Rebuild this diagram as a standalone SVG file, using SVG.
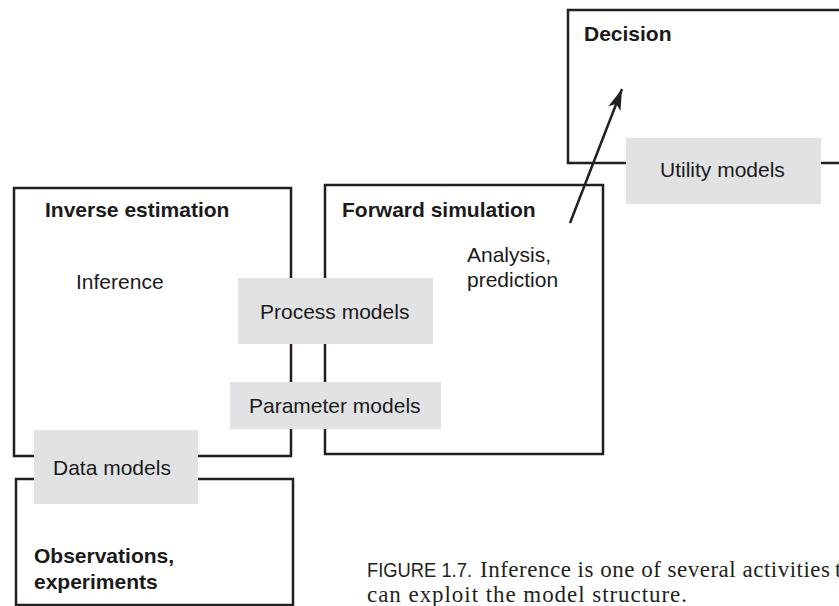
<svg xmlns="http://www.w3.org/2000/svg" width="839" height="606" viewBox="0 0 839 606">
<style>
.box{fill:#fff;stroke:#231f20;stroke-width:2.5}
.model{fill:#e1e2e4;stroke:none}
.t{font-family:"Liberation Sans",Arial,sans-serif;font-size:21px;fill:#1a1a1a}
.b{font-weight:bold}
.cap{font-family:"Liberation Serif","Times New Roman",serif;font-size:23px;fill:#231f20}
.capl{font-family:"Liberation Sans",Arial,sans-serif;font-size:20px;fill:#231f20}
</style>
<defs>
<marker id="ah" markerUnits="userSpaceOnUse" markerWidth="24" markerHeight="16" viewBox="-22 -8 24 16" refX="0" refY="0" orient="auto">
<path d="M0,0 L-21,-6.5 L-16,0 L-21,6.5 Z" fill="#231f20"/>
</marker>
</defs>
<rect width="839" height="606" fill="#fff"/>
<g id="decision">
<rect class="box" x="568" y="10" width="300" height="153"/>
<text class="t b" x="584" y="41">Decision</text>
</g>
<g id="forward">
<rect class="box" x="325" y="185" width="278" height="269"/>
<text class="t b" x="342" y="217">Forward simulation</text>
<text class="t" x="467" y="262">Analysis,</text>
<text class="t" x="467" y="287">prediction</text>
</g>
<g id="inverse">
<rect class="box" x="14" y="188" width="277" height="268"/>
<text class="t b" x="45" y="217">Inverse estimation</text>
<text class="t" x="76" y="289">Inference</text>
</g>
<g id="observations">
<rect class="box" x="16" y="479" width="277" height="126"/>
<text class="t b" x="34" y="563">Observations,</text>
<text class="t b" x="34" y="589">experiments</text>
</g>
<g id="utility-models">
<rect class="model" x="626" y="138" width="195" height="66"/>
<text class="t" x="660" y="177">Utility models</text>
</g>
<g id="process-models">
<rect class="model" x="238" y="278" width="195" height="66"/>
<text class="t" x="260" y="319">Process models</text>
</g>
<g id="parameter-models">
<rect class="model" x="230" y="382" width="211" height="47"/>
<text class="t" x="249" y="413">Parameter models</text>
</g>
<g id="data-models">
<rect class="model" x="34" y="430" width="164" height="74"/>
<text class="t" x="53" y="475">Data models</text>
</g>
<g id="connectors">
<line x1="570" y1="223" x2="622" y2="89" stroke="#231f20" stroke-width="2.5" marker-end="url(#ah)"/>
</g>
<g id="caption">
<text class="capl" x="367" y="577" textLength="105" lengthAdjust="spacingAndGlyphs">FIGURE 1.7.</text>
<text class="cap" x="480" y="577" textLength="350" lengthAdjust="spacing">Inference is one of several activities</text>
<text class="cap" x="835" y="577">t</text>
<text class="cap" x="367" y="602" textLength="320" lengthAdjust="spacing">can exploit the model structure.</text>
</g>
</svg>
